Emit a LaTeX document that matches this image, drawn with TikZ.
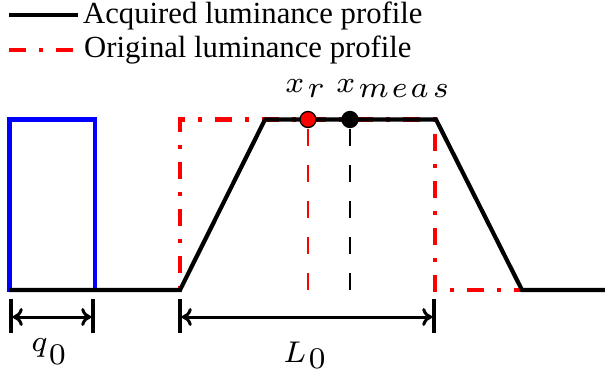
\documentclass[tikz,border=0pt]{standalone}
\usepackage[no-math]{fontspec}
\setmainfont{Liberation Serif}
\DeclareFontFamily{OML}{cmm}{\skewchar\font127 }
\DeclareFontShape{OML}{cmm}{m}{it}{<->cmmi7}{}
\DeclareFontFamily{OT1}{cmr}{\hyphenchar\font45 }
\DeclareFontShape{OT1}{cmr}{m}{n}{<->cmr7}{}
\usetikzlibrary{arrows.meta}
\begin{document}
\begin{tikzpicture}[x=1pt,y=-1pt,
  acq/.style={line width=4.2pt, black},
  orig/.style={line width=4.2pt, red, dash pattern=on 17pt off 13pt on 4pt off 13pt},
  vdash/.style={line width=2.5pt, dash pattern=on 17pt off 19pt},
  dotmark/.style={circle, inner sep=0pt, minimum size=16pt, draw=black, line width=1.3pt},
  tickline/.style={line width=3.5pt, black},
  dimline/.style={line width=3pt, black, {Computer Modern Rightarrow[length=10pt,width=18pt]}-{Computer Modern Rightarrow[length=10pt,width=18pt]}, shorten <=1.8pt, shorten >=1.8pt},
  lbl/.style={font=\fontsize{30}{36}\selectfont, inner sep=0pt, anchor=base west},
  leg/.style={font=\fontsize{30.7}{36}\selectfont, inner sep=0pt, anchor=base west}
]
\useasboundingbox (0,0) rectangle (605,375);

% legend
\coordinate (la1) at (9,15);
\coordinate (la2) at (78,15);
\coordinate (lb1) at (9,50);
\coordinate (lb2) at (78,50);
\draw[acq] (la1) -- (la2);
\draw[orig] (lb1) -- (lb2);
\node[leg] (legA) at (83,23) {Acquired luminance profile};
\node[leg] (legB) at (84,57) {Original luminance profile};

% blue box
\draw[blue, line width=4.2pt] (9.5,290) rectangle (94.7,119.5);

% original profile (red)
\draw[orig] (9,290) -- (180,290) -- (180,119.5) -- (435,119.5) -- (435,290) -- (522,290);

% acquired profile (black)
\draw[acq] (9,290) -- (180,290) -- (265,119.5) -- (436,119.5) -- (522,290) -- (607,290);

% markers
\coordinate (xrb) at (308,290);
\coordinate (xmb) at (350,290);
\node[dotmark, fill=red] (xr) at (308,119.5) {};
\node[dotmark, fill=black] (xm) at (350,119.5) {};
\draw[vdash, red] (xrb) -- (xr);
\draw[vdash, black] (xmb) -- (xm);

\node[lbl] (xrl) at (285,92) {$x\kern3pt\lower5pt\hbox{$r$}$};
\node[lbl] (xml) at (336,92) {$x\kern3pt\lower5pt\hbox{$m\kern2.5pt e\kern2.5pt a\kern4pt s$}$};

% dimensions
\coordinate (t1a) at (11,299); \coordinate (t1b) at (11,333);
\coordinate (t2a) at (93,299); \coordinate (t2b) at (93,333);
\coordinate (t3a) at (180,299); \coordinate (t3b) at (180,333);
\coordinate (t4a) at (434,299); \coordinate (t4b) at (434,333);
\draw[tickline] (t1a) -- (t1b);
\draw[tickline] (t2a) -- (t2b);
\draw[tickline] (t3a) -- (t3b);
\draw[tickline] (t4a) -- (t4b);
\coordinate (q0l) at (11,317);
\coordinate (q0r) at (93,317);
\coordinate (L0l) at (180,317);
\coordinate (L0r) at (434,317);
\draw[dimline] (q0l) -- (q0r);
\draw[dimline] (L0l) -- (L0r);

\node[lbl] (q0) at (31,351) {$q\kern1pt\lower13pt\hbox{$0$}$};
\node[lbl] (L0) at (283,362) {$L\kern2pt\lower6pt\hbox{$0$}$};
\end{tikzpicture}
\end{document}
